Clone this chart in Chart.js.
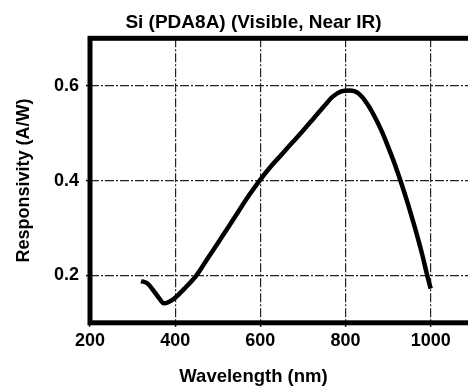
<!DOCTYPE html>
<html>
<head>
<meta charset="utf-8">
<script src="https://cdn.jsdelivr.net/npm/chart.js@4"></script>
<style>
  html, body { margin: 0; padding: 0; background: #fff; overflow: hidden; }
  #wrap { width: 507px; height: 391px; }
</style>
</head>
<body>
<div id="wrap"><canvas id="chart" width="507" height="391"></canvas></div>
<script>
// Si (PDA8A) responsivity curve
const wavelengths = [320, 335, 350, 363, 373, 385, 400, 425, 450, 475, 500, 525, 550, 575, 600,
                     625, 650, 675, 700, 725, 750, 770, 790, 810, 830, 850, 870, 887, 900, 915,
                     930, 945, 963, 980, 991, 1000];
const responsivity = [0.188, 0.183, 0.167, 0.151, 0.141, 0.144, 0.153, 0.175, 0.200, 0.234, 0.268, 0.302, 0.337, 0.371, 0.402,
                      0.430, 0.455, 0.480, 0.505, 0.531, 0.557, 0.577, 0.588, 0.590, 0.584, 0.563, 0.532, 0.500, 0.471, 0.436,
                      0.397, 0.355, 0.300, 0.244, 0.203, 0.172];

// only every other grid line gets a label
const xTickLabels = [200, 400, 600, 800, 1000];
const yTickLabels = [0.2, 0.4, 0.6];

const fontFamily = "'Liberation Sans', Arial, Helvetica, sans-serif";

// thick box round the plot area (the top edge has no axis of its own)
const frame = {
    id: 'frame',
    afterDatasetsDraw(chart) {
        const { ctx, chartArea: a } = chart;
        ctx.save();
        ctx.lineWidth = 5;
        ctx.strokeStyle = '#000';
        ctx.strokeRect(a.left, a.top, a.right - a.left, a.bottom - a.top);
        ctx.restore();
    }
};

const gridStyle = { color: '#222', lineWidth: 1.2, tickLength: 4, tickColor: '#000', tickWidth: 1.5 };

new Chart(document.getElementById('chart'), {
    type: 'line',
    data: {
        datasets: [{
            data: wavelengths.map((w, i) => ({ x: w, y: responsivity[i] })),
            borderColor: '#000',
            borderWidth: 4.5,
            pointRadius: 0,
            fill: false,
            cubicInterpolationMode: 'monotone'
        }]
    },
    options: {
        responsive: false,
        animation: false,
        layout: { padding: 0 },
        plugins: {
            legend: { display: false },
            tooltip: { enabled: false },
            title: {
                display: true,
                text: 'Si (PDA8A) (Visible, Near IR)',
                color: '#000',
                font: { family: fontFamily, size: 19, weight: 'bold' },
                padding: { top: 10.9, bottom: 4.6 }
            },
            subtitle: {
                display: true,
                position: 'bottom',
                text: 'Wavelength (nm)',
                color: '#000',
                font: { family: fontFamily, size: 18.5, weight: 'bold' },
                padding: { top: 0, bottom: 3 }
            }
        },
        scales: {
            x: {
                type: 'linear',
                min: 200,
                max: 1100,
                afterFit: (s) => { s.height = 43; },
                ticks: {
                    stepSize: 100,
                    autoSkip: false,
                    maxRotation: 0,
                    padding: 3,
                    color: '#000',
                    font: { family: fontFamily, size: 18, weight: 'bold' },
                    callback: (v) => xTickLabels.includes(v) ? String(v) : null
                },
                grid: gridStyle,
                border: { display: false, dash: [9, 2, 2, 2] }
            },
            y: {
                min: 0.1,
                max: 0.7,
                afterFit: (s) => { s.width = 90; },
                ticks: {
                    stepSize: 0.1,
                    padding: 7,
                    color: '#000',
                    font: { family: fontFamily, size: 18, weight: 'bold' },
                    callback: (v) => {
                        const r = Math.round(v * 10) / 10;
                        return yTickLabels.includes(r) ? r.toFixed(1) : null;
                    }
                },
                title: {
                    display: true,
                    text: 'Responsivity (A/W)',
                    color: '#000',
                    font: { family: fontFamily, size: 18, weight: 'bold' },
                    padding: { top: 13, bottom: 0 }
                },
                grid: gridStyle,
                border: { display: false, dash: [9, 2, 2, 2] }
            },
            // empty strip on the right: the plot runs on past the window edge
            yRight: {
                position: 'right',
                afterFit: (s) => { s.width = 33.7; },
                ticks: { display: false },
                grid: { display: false },
                border: { display: false }
            }
        }
    },
    plugins: [frame]
});
</script>
</body>
</html>
